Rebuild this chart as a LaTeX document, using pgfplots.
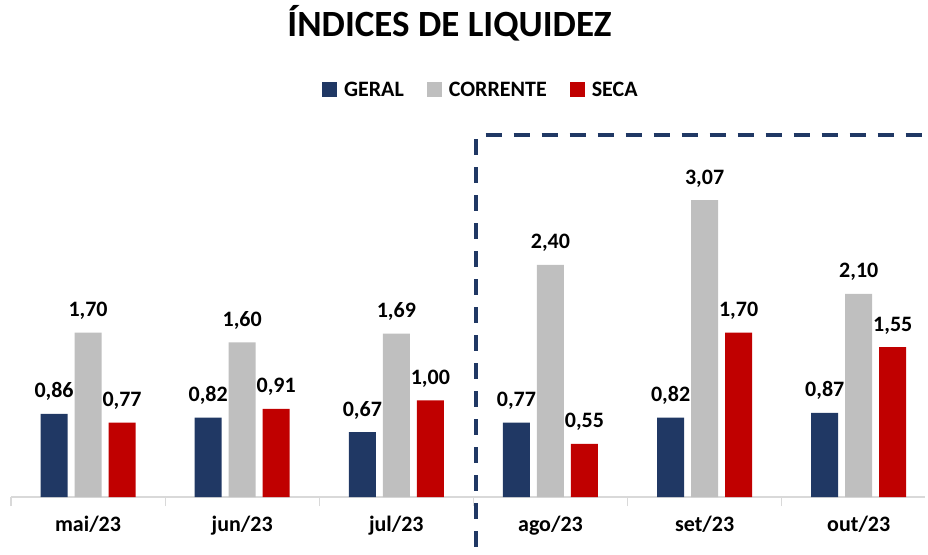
\documentclass[border=0pt]{standalone}
\usepackage{pgfplots}
\pgfplotsset{compat=1.18}
\usepackage{fontspec}
\setmainfont{Carlito}
\definecolor{cgeral}{HTML}{203864}
\definecolor{ccorr}{HTML}{BFBFBF}
\definecolor{cseca}{HTML}{C00000}
\definecolor{axgray}{HTML}{D9D9D9}
\begin{document}
\begin{tikzpicture}
\begin{axis}[
  scale only axis, width=914pt, height=367.5pt,
  xmin=-0.5, xmax=5.43, ymin=0, ymax=3.8,
  ybar=7pt, bar width=27pt,
  axis x line*=bottom, hide y axis,
  x axis line style={axgray, line width=1.2pt, -},
  xtick={0,...,5},
  xticklabels={mai/23,jun/23,jul/23,ago/23,set/23,out/23},
  major tick length=0pt,
  minor xtick={-0.5,0.5,1.5,2.5,3.5,4.5},
  minor tick length=9pt, tick align=outside,
  minor tick style={axgray, line width=1.2pt},
  xticklabel style={font=\fontsize{22}{22}\selectfont\bfseries, yshift=-16pt},
  /pgf/number format/assume math mode=true,
  nodes near coords,
  nodes near coords style={font=\fontsize{22}{22}\selectfont\bfseries, anchor=base, inner sep=0pt, yshift=16pt,
    /pgf/number format/.cd, fixed, fixed zerofill, precision=2, use comma, assume math mode=true},
  every axis plot/.append style={draw=none},
  legend columns=3,
  legend style={at={(0.514,1.108)}, anchor=center, draw=none, font=\fontsize{22}{22}\selectfont\bfseries,
    /tikz/every even column/.append style={column sep=21pt},
    /tikz/every odd column/.append style={column sep=5pt}},
  legend image code/.code={\fill[#1] (0pt,-7pt) rectangle (15pt,8pt);},
  clip=false,
]
\addplot[fill=cgeral] coordinates {(0,0.86) (1,0.82) (2,0.67) (3,0.77) (4,0.82) (5,0.87)};
\addplot[fill=ccorr] coordinates {(0,1.70) (1,1.60) (2,1.69) (3,2.40) (4,3.07) (5,2.10)};
\addplot[fill=cseca] coordinates {(0,0.77) (1,0.91) (2,1.00) (3,0.55) (4,1.70) (5,1.55)};
\legend{GERAL,CORRENTE,SECA}
\draw[cgeral, line width=4pt, dash pattern=on 16pt off 12pt] (axis cs:2.52,3.70) -- (axis cs:2.52,-0.52);
\draw[cgeral, line width=4pt, dash pattern=on 16pt off 12pt] (axis cs:2.58,3.74) -- (axis cs:5.43,3.74);
\end{axis}
\node[font=\fontsize{37}{37}\selectfont\bfseries, anchor=base] at (438.5pt,460pt) {ÍNDICES DE LIQUIDEZ};
\path[use as bounding box] (-11pt,-57pt) rectangle (917pt,497pt);
\end{tikzpicture}
\end{document}
